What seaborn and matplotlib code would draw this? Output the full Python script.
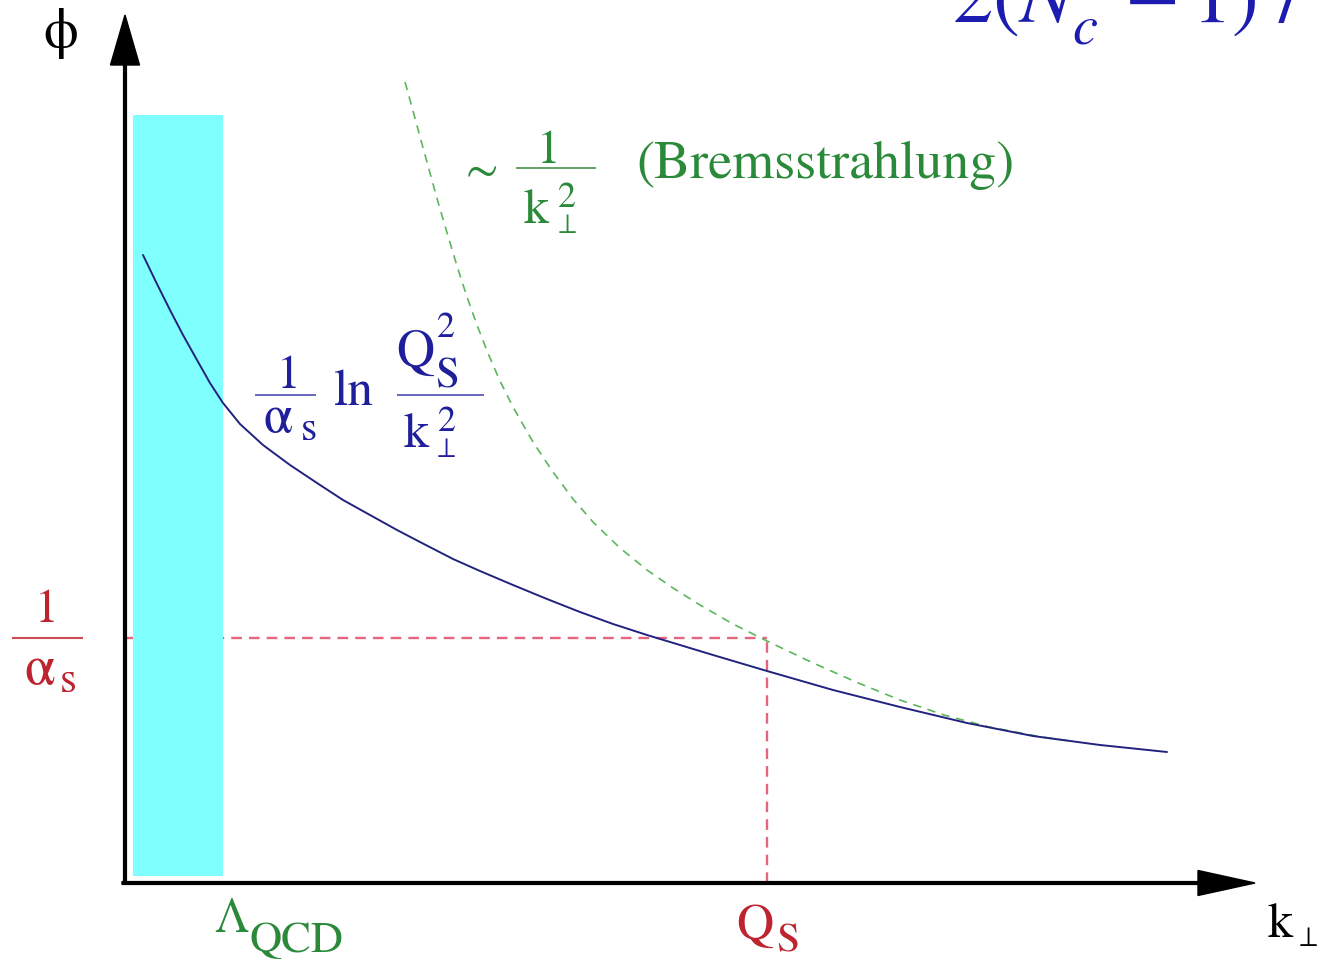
import numpy as np
import pandas as pd
import matplotlib
matplotlib.use("Agg")
import matplotlib.pyplot as plt
import seaborn as sns

# ---- data (schematic units: k_perp, phi) ----
k_sat = [0.18, 0.32, 0.45, 0.58, 0.72, 0.85, 0.98, 1.15, 1.38, 1.65, 1.92, 2.18, 2.45,
         2.72, 2.95, 3.28, 3.55, 3.88, 4.22, 4.55, 4.88, 5.22, 5.55, 5.88, 6.42, 7.08,
         7.75, 8.42, 9.08, 9.75, 10.42]
phi_sat = [6.28, 5.99, 5.73, 5.48, 5.23, 5.00, 4.80, 4.59, 4.38, 4.18, 4.00, 3.83, 3.68,
           3.53, 3.41, 3.24, 3.12, 2.98, 2.84, 2.71, 2.59, 2.48, 2.38, 2.28, 2.12, 1.93,
           1.76, 1.60, 1.47, 1.38, 1.31]

k_brems = [2.80, 2.88, 2.97, 3.05, 3.13, 3.23, 3.32, 3.42, 3.52, 3.62, 3.75, 3.88, 4.08,
           4.28, 4.48, 4.68, 4.95, 5.22, 5.48, 5.75, 6.08, 6.42, 6.86, 7.31, 7.75, 8.19,
           8.64, 9.17, 9.45]
phi_brems = [8.01, 7.72, 7.39, 7.10, 6.81, 6.47, 6.17, 5.86, 5.58, 5.32, 5.02, 4.76, 4.41,
             4.11, 3.84, 3.61, 3.35, 3.13, 2.95, 2.78, 2.59, 2.42, 2.21, 2.01, 1.83, 1.68,
             1.56, 1.46, 1.42]

lambda_band = [0.08, 0.98]   # Lambda_QCD region (k range)
band_phi = [0.07, 7.68]      # vertical extent of the band
qs_k = 6.42                  # Q_S position
inv_alpha = 2.45             # 1/alpha_s level

# ---- style ----
sns.set_theme(style="white")
plt.rcParams["font.family"] = ["STIXGeneral", "DejaVu Serif"]
plt.rcParams["mathtext.fontset"] = "stix"

BLUE_TXT = "#1f1f9c"
GREEN_TXT = "#2a8a3a"
RED_TXT = "#bd2430"

fig = plt.figure(figsize=(13.21, 9.61), dpi=100)
ax = fig.add_axes([0, 0, 1, 1])


def P(px, py):
    """pixel position in the picture -> axes data position (for labels)"""
    return (px - 125) / 100.0, (883 - py) / 100.0


def T(px, py, s, size, color, ha="left", va="baseline"):
    x, y = P(px, py)
    ax.text(x, y, s, fontsize=size, color=color, ha=ha, va=va)


def bar(px0, px1, py, color, lw=1.2):
    x0, y0 = P(px0, py)
    x1, _ = P(px1, py)
    ax.plot([x0, x1], [y0, y0], color=color, lw=lw, solid_capstyle="butt")


# red dashed guide lines
ax.hlines(inv_alpha, 0, qs_k, colors="#e3657e", linestyles=(0, (4.5, 3)), lw=1.7, zorder=1)
ax.vlines(qs_k, 0, inv_alpha, colors="#e3657e", linestyles=(0, (4.5, 3)), lw=1.7, zorder=1)

# non-perturbative band
ax.fill_between(lambda_band, band_phi[0], band_phi[1], color="#80ffff", lw=0, zorder=2)

# curves
df_sat = pd.DataFrame({"k": k_sat, "phi": phi_sat})
df_brems = pd.DataFrame({"k": k_brems, "phi": phi_brems})
sns.lineplot(data=df_brems, x="k", y="phi", ax=ax, color="#5cb65c", lw=1.2,
             linestyle=(0, (5, 4)), legend=False, zorder=3)
sns.lineplot(data=df_sat, x="k", y="phi", ax=ax, color="#22227f", lw=1.4,
             legend=False, zorder=4)

ax.set_xlim(-1.25, 11.96)
ax.set_ylim(-0.78, 8.83)
ax.axis("off")

# axes arrows
ax.arrow(-0.03, 0, 11.33, 0, width=0.028, head_width=0.25, head_length=0.57,
         length_includes_head=True, fc="black", ec="black", zorder=6)
ax.arrow(0, -0.01, 0, 8.69, width=0.028, head_width=0.29, head_length=0.50,
         length_includes_head=True, fc="black", ec="black", zorder=6)

# axis labels
T(61, 34, "\u03d5", 40, "black", ha="center", va="center")
T(1268, 937, "k", 36, "black")
T(1299, 946, "\u22a5", 20, "black")

# Lambda_QCD and Q_S
T(214, 932, "\u039b", 35, GREEN_TXT)
T(250, 952, "QCD", 32, GREEN_TXT)
T(736, 940, "Q", 37, RED_TXT)
T(776, 952, "S", 30, RED_TXT)

# 1/alpha_s on the left
T(47, 622, "1", 34, RED_TXT, ha="center")
bar(12, 83, 638, "#d04a55", lw=1.5)
T(24, 684, "\u03b1", 40, RED_TXT)
T(60, 692, "s", 31, RED_TXT)

# blue label: 1/alpha_s ln Q_S^2 / k_perp^2
T(289, 388, "1", 34, BLUE_TXT, ha="center")
bar(255, 316, 395, "#5a5ab8", lw=1.3)
T(264, 432, "\u03b1", 38, BLUE_TXT)
T(301, 440, "s", 30, BLUE_TXT)
T(333, 405, "ln", 37, BLUE_TXT)
T(396, 367, "Q", 38, BLUE_TXT)
T(437, 337, "2", 26, BLUE_TXT)
T(435, 387, "S", 31, BLUE_TXT)
bar(397, 484, 395, "#5a5ab8", lw=1.3)
T(404, 447, "k", 36, BLUE_TXT)
T(438, 431, "2", 26, BLUE_TXT)
T(437, 457, "\u22a5", 20, BLUE_TXT)

# green label: ~ 1/k_perp^2 (Bremsstrahlung)
T(482, 172, "\u223c", 34, GREEN_TXT, ha="center", va="center")
T(549, 163, "1", 34, GREEN_TXT, ha="center")
bar(516, 596, 168, "#5a9a5a", lw=1.3)
T(524, 223, "k", 36, GREEN_TXT)
T(558, 207, "2", 26, GREEN_TXT)
T(558, 233, "\u22a5", 20, GREEN_TXT)
T(636, 178, "(Bremsstrahlung)", 39, GREEN_TXT)

# formula at the top edge (cut by the picture edge, as in the reference)
T(952, 23, r"$2(N_c^2 - 1)\ /$", 58, "#1c1cb0")

fig.savefig("out.png", dpi=100)
